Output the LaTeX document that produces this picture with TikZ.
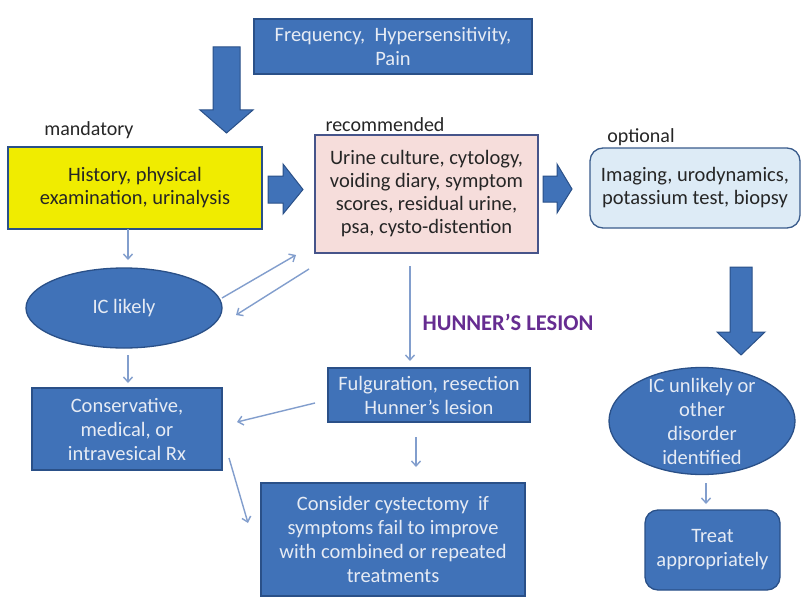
\documentclass[tikz,border=0pt]{standalone}
\usepackage{fontspec}
\setmainfont{Carlito}
\usetikzlibrary{shapes.geometric,arrows.meta}
\definecolor{boxblue}{RGB}{64,114,184}
\definecolor{boxedge}{RGB}{42,80,136}
\definecolor{lighttext}{RGB}{230,235,244}
\definecolor{darktext}{RGB}{38,38,38}
\definecolor{yell}{RGB}{240,236,0}
\definecolor{pinkfill}{RGB}{246,221,219}
\definecolor{pinkedge}{RGB}{70,84,138}
\definecolor{lbfill}{RGB}{221,235,246}
\definecolor{lbedge}{RGB}{58,92,140}
\definecolor{thinarr}{RGB}{130,158,205}
\definecolor{hunner}{RGB}{102,44,145}
\tikzset{
  x=1pt,y=-1pt,
  bluebox/.style={draw=boxedge,line width=1.3pt,fill=boxblue,text=lighttext,
    align=center,inner sep=0pt,font=\fontsize{20.5}{24}\selectfont},
  bluetxt/.style={text=lighttext,align=center,inner sep=0pt,font=\fontsize{20.5}{24}\selectfont},
  lightbox/.style={draw,line width=1.3pt,text=darktext,align=center,inner sep=0pt,
    font=\fontsize{20.5}{23}\selectfont},
  blueell/.style={ellipse,draw=boxedge,line width=1.3pt,fill=boxblue,inner sep=0pt},
  tag/.style={text=darktext,inner sep=0pt,font=\fontsize{20}{22}\selectfont},
  thinarrow/.style={draw=thinarr,line width=1.4pt,-{Straight Barb[length=5pt,width=9pt]}},
  blockarrow/.style={fill=boxblue,draw=boxedge,line width=1pt,line join=miter},
}
\begin{document}
\begin{tikzpicture}
\useasboundingbox[fill=white] (0,0) rectangle (802,607);

% boxes
\node[bluebox,minimum width=278,minimum height=55] (top) at (393,46.5)
  {Frequency,\ \ Hypersensitivity,\\Pain};
\node[lightbox,draw=boxedge,fill=yell,minimum width=254,minimum height=82] (hist) at (135,188)
  {History, physical\\examination, urinalysis};
\node[lightbox,draw=pinkedge,fill=pinkfill,minimum width=223,minimum height=118] (rec) at (426.5,194)
  {Urine culture, cytology,\\voiding diary, symptom\\scores, residual urine,\\psa, cysto-distention};
\node[lightbox,draw=lbedge,fill=lbfill,rounded corners=13pt,minimum width=210,minimum height=80] (opt) at (695,188)
  {Imaging, urodynamics,\\potassium test, biopsy};

\node[tag] (mand) at (89,130) {mandatory};
\node[tag] (recl) at (385,125) {recommended};
\node[tag] (optl) at (641,137) {optional};

\node[blueell,minimum width=196,minimum height=80] (icl) at (124,308) {};
\node[bluetxt] at (icl) {IC likely};

\node[bluebox,minimum width=190,minimum height=82] (cons) at (127,429)
  {Conservative,\\medical, or\\intravesical Rx};
\node[bluebox,minimum width=202,minimum height=54] (fulg) at (429,395)
  {Fulguration, resection\\Hunner’s lesion};
\node[bluebox,minimum width=264,minimum height=113] (cyst) at (393,539.5)
  {Consider cystectomy\ \ if\\symptoms fail to improve\\with combined or repeated\\treatments};

\node[text=hunner,inner sep=0pt,font=\fontsize{22.5}{24}\selectfont\bfseries] (hl) at (508,322) {HUNNER’S LESION};

\node[blueell,minimum width=186,minimum height=107] (icu) at (702,421) {};
\node[bluetxt] at (icu) {IC unlikely or\\other\\disorder\\identified};
\node[bluebox,rounded corners=13pt,minimum width=135,minimum height=80] (treat) at (712.5,550)
  {Treat\\appropriately};

% block arrows
\draw[blockarrow] (213,47) -- (240,47) -- (240,110) -- (253,110) -- (226.5,133) -- (200,110) -- (213,110) -- cycle;
\draw[blockarrow] (268,176) -- (283,176) -- (283,164) -- (303,189.5) -- (283,214) -- (283,203) -- (268,203) -- cycle;
\draw[blockarrow] (543,176) -- (557,176) -- (557,164) -- (572,189) -- (557,213) -- (557,202) -- (543,202) -- cycle;
\draw[blockarrow] (730,267) -- (752,267) -- (752,332) -- (765,332) -- (741,355) -- (717,332) -- (730,332) -- cycle;

% thin arrows
\coordinate (a1) at (128,229);  \coordinate (b1) at (128,260);
\coordinate (a2) at (128,355);  \coordinate (b2) at (128,383);
\coordinate (a3) at (410,266);  \coordinate (b3) at (410,361);
\coordinate (a4) at (416,437);  \coordinate (b4) at (416,467);
\coordinate (a5) at (706,483);  \coordinate (b5) at (706,504);
\coordinate (a6) at (222,298);  \coordinate (b6) at (296,255);
\coordinate (a7) at (309,269);  \coordinate (b7) at (236,315);
\coordinate (a8) at (315,403);  \coordinate (b8) at (237,422);
\coordinate (a9) at (229,458);  \coordinate (b9) at (248,523);
\draw[thinarrow] (a1) -- (b1);
\draw[thinarrow] (a2) -- (b2);
\draw[thinarrow] (a3) -- (b3);
\draw[thinarrow] (a4) -- (b4);
\draw[thinarrow] (a5) -- (b5);
\draw[thinarrow] (a6) -- (b6);
\draw[thinarrow] (a7) -- (b7);
\draw[thinarrow] (a8) -- (b8);
\draw[thinarrow] (a9) -- (b9);
\end{tikzpicture}
\end{document}
